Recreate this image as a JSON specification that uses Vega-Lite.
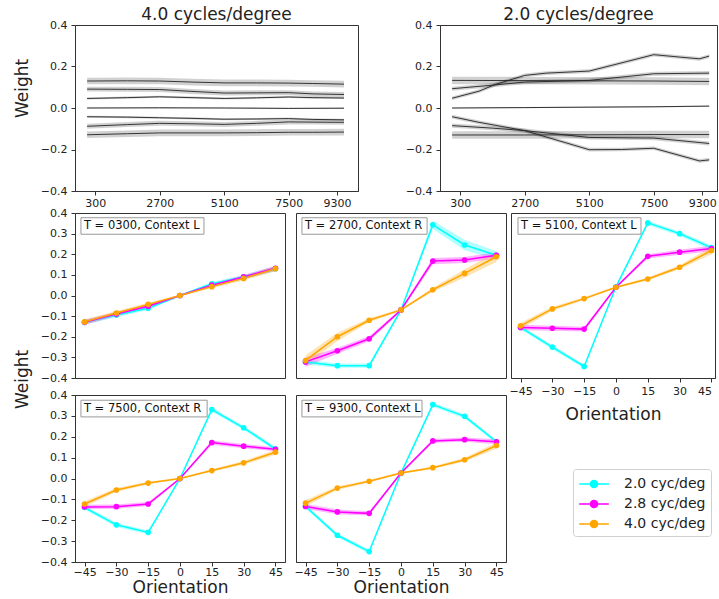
{
  "$schema": "https://vega.github.io/schema/vega-lite/v6.json",
  "padding": {"left": 12, "top": 5, "right": 0, "bottom": 0},
  "config": {
    "font": "DejaVu Sans",
    "view": {"stroke": "#333", "strokeWidth": 1},
    "axis": {"grid": false, "domainColor": "#333", "tickColor": "#333", "labelColor": "#222", "labelFontSize": 11, "tickSize": 4, "labelPadding": 4, "titleFontSize": 17, "titleFontWeight": "normal", "titleColor": "#222", "labelFont": "DejaVu Sans", "titleFont": "DejaVu Sans", "labelOverlap": false},
    "title": {"fontSize": 17, "fontWeight": "normal", "font": "DejaVu Sans", "color": "#222", "offset": -5, "frame": "group"},
    "range": {"category": ["#00ffff", "#ff00ff", "#ffa500"]}
  },
  "datasets": {
    "top": [
      {"panel":"tl","k":"p45","t":0,"w":0.13,"lo":0.114,"hi":0.146},
      {"panel":"tl","k":"p45","t":1500,"w":0.131,"lo":0.115,"hi":0.147},
      {"panel":"tl","k":"p45","t":2700,"w":0.13,"lo":0.114,"hi":0.146},
      {"panel":"tl","k":"p45","t":3900,"w":0.125,"lo":0.109,"hi":0.141},
      {"panel":"tl","k":"p45","t":5100,"w":0.121,"lo":0.105,"hi":0.137},
      {"panel":"tl","k":"p45","t":6300,"w":0.121,"lo":0.105,"hi":0.137},
      {"panel":"tl","k":"p45","t":7500,"w":0.12,"lo":0.104,"hi":0.136},
      {"panel":"tl","k":"p45","t":8400,"w":0.118,"lo":0.102,"hi":0.134},
      {"panel":"tl","k":"p45","t":9560,"w":0.115,"lo":0.099,"hi":0.131},
      {"panel":"tl","k":"p30","t":0,"w":0.091,"lo":0.079,"hi":0.103},
      {"panel":"tl","k":"p30","t":1500,"w":0.09,"lo":0.078,"hi":0.102},
      {"panel":"tl","k":"p30","t":2700,"w":0.089,"lo":0.077,"hi":0.101},
      {"panel":"tl","k":"p30","t":3900,"w":0.08,"lo":0.068,"hi":0.092},
      {"panel":"tl","k":"p30","t":5100,"w":0.072,"lo":0.06,"hi":0.084},
      {"panel":"tl","k":"p30","t":6300,"w":0.073,"lo":0.061,"hi":0.085},
      {"panel":"tl","k":"p30","t":7500,"w":0.074,"lo":0.062,"hi":0.086},
      {"panel":"tl","k":"p30","t":8400,"w":0.068,"lo":0.056,"hi":0.08},
      {"panel":"tl","k":"p30","t":9560,"w":0.065,"lo":0.053,"hi":0.077},
      {"panel":"tl","k":"p15","t":0,"w":0.046,"lo":0.041,"hi":0.051},
      {"panel":"tl","k":"p15","t":1500,"w":0.05,"lo":0.045,"hi":0.055},
      {"panel":"tl","k":"p15","t":2700,"w":0.054,"lo":0.049,"hi":0.059},
      {"panel":"tl","k":"p15","t":3900,"w":0.05,"lo":0.045,"hi":0.055},
      {"panel":"tl","k":"p15","t":5100,"w":0.046,"lo":0.041,"hi":0.051},
      {"panel":"tl","k":"p15","t":6300,"w":0.049,"lo":0.044,"hi":0.054},
      {"panel":"tl","k":"p15","t":7500,"w":0.053,"lo":0.048,"hi":0.058},
      {"panel":"tl","k":"p15","t":8400,"w":0.05,"lo":0.045,"hi":0.055},
      {"panel":"tl","k":"p15","t":9560,"w":0.048,"lo":0.043,"hi":0.053},
      {"panel":"tl","k":"z","t":0,"w":0.0,"lo":-0.003,"hi":0.003},
      {"panel":"tl","k":"z","t":2700,"w":0.001,"lo":-0.002,"hi":0.004},
      {"panel":"tl","k":"z","t":5100,"w":0.0,"lo":-0.003,"hi":0.003},
      {"panel":"tl","k":"z","t":7500,"w":-0.002,"lo":-0.005,"hi":0.001},
      {"panel":"tl","k":"z","t":9560,"w":-0.001,"lo":-0.004,"hi":0.002},
      {"panel":"tl","k":"m15","t":0,"w":-0.042,"lo":-0.047,"hi":-0.037},
      {"panel":"tl","k":"m15","t":1500,"w":-0.044,"lo":-0.049,"hi":-0.039},
      {"panel":"tl","k":"m15","t":2700,"w":-0.047,"lo":-0.052,"hi":-0.042},
      {"panel":"tl","k":"m15","t":3900,"w":-0.05,"lo":-0.055,"hi":-0.045},
      {"panel":"tl","k":"m15","t":5100,"w":-0.054,"lo":-0.059,"hi":-0.049},
      {"panel":"tl","k":"m15","t":6300,"w":-0.053,"lo":-0.058,"hi":-0.048},
      {"panel":"tl","k":"m15","t":7500,"w":-0.051,"lo":-0.056,"hi":-0.046},
      {"panel":"tl","k":"m15","t":8400,"w":-0.055,"lo":-0.06,"hi":-0.05},
      {"panel":"tl","k":"m15","t":9560,"w":-0.057,"lo":-0.062,"hi":-0.052},
      {"panel":"tl","k":"m30","t":0,"w":-0.088,"lo":-0.1,"hi":-0.076},
      {"panel":"tl","k":"m30","t":1500,"w":-0.08,"lo":-0.092,"hi":-0.068},
      {"panel":"tl","k":"m30","t":2700,"w":-0.074,"lo":-0.086,"hi":-0.062},
      {"panel":"tl","k":"m30","t":3900,"w":-0.076,"lo":-0.088,"hi":-0.064},
      {"panel":"tl","k":"m30","t":5100,"w":-0.079,"lo":-0.091,"hi":-0.067},
      {"panel":"tl","k":"m30","t":6300,"w":-0.074,"lo":-0.086,"hi":-0.062},
      {"panel":"tl","k":"m30","t":7500,"w":-0.067,"lo":-0.079,"hi":-0.055},
      {"panel":"tl","k":"m30","t":8400,"w":-0.068,"lo":-0.08,"hi":-0.056},
      {"panel":"tl","k":"m30","t":9560,"w":-0.069,"lo":-0.081,"hi":-0.057},
      {"panel":"tl","k":"m45","t":0,"w":-0.129,"lo":-0.145,"hi":-0.113},
      {"panel":"tl","k":"m45","t":1500,"w":-0.124,"lo":-0.14,"hi":-0.108},
      {"panel":"tl","k":"m45","t":2700,"w":-0.12,"lo":-0.136,"hi":-0.104},
      {"panel":"tl","k":"m45","t":3900,"w":-0.12,"lo":-0.136,"hi":-0.104},
      {"panel":"tl","k":"m45","t":5100,"w":-0.12,"lo":-0.136,"hi":-0.104},
      {"panel":"tl","k":"m45","t":6300,"w":-0.119,"lo":-0.135,"hi":-0.103},
      {"panel":"tl","k":"m45","t":7500,"w":-0.117,"lo":-0.133,"hi":-0.101},
      {"panel":"tl","k":"m45","t":8400,"w":-0.117,"lo":-0.133,"hi":-0.101},
      {"panel":"tl","k":"m45","t":9560,"w":-0.116,"lo":-0.132,"hi":-0.1},
      {"panel":"tr","k":"a","t":0,"w":0.047,"lo":0.038,"hi":0.056},
      {"panel":"tr","k":"a","t":1000,"w":0.081,"lo":0.072,"hi":0.09},
      {"panel":"tr","k":"a","t":1600,"w":0.113,"lo":0.104,"hi":0.122},
      {"panel":"tr","k":"a","t":2700,"w":0.157,"lo":0.148,"hi":0.166},
      {"panel":"tr","k":"a","t":3500,"w":0.168,"lo":0.159,"hi":0.177},
      {"panel":"tr","k":"a","t":5100,"w":0.178,"lo":0.169,"hi":0.187},
      {"panel":"tr","k":"a","t":7500,"w":0.257,"lo":0.248,"hi":0.266},
      {"panel":"tr","k":"a","t":8500,"w":0.245,"lo":0.236,"hi":0.254},
      {"panel":"tr","k":"a","t":9200,"w":0.237,"lo":0.228,"hi":0.246},
      {"panel":"tr","k":"a","t":9560,"w":0.25,"lo":0.241,"hi":0.259},
      {"panel":"tr","k":"b","t":0,"w":0.093,"lo":0.083,"hi":0.103},
      {"panel":"tr","k":"b","t":1500,"w":0.11,"lo":0.1,"hi":0.12},
      {"panel":"tr","k":"b","t":2700,"w":0.125,"lo":0.115,"hi":0.135},
      {"panel":"tr","k":"b","t":5100,"w":0.133,"lo":0.123,"hi":0.143},
      {"panel":"tr","k":"b","t":7500,"w":0.165,"lo":0.155,"hi":0.175},
      {"panel":"tr","k":"b","t":9560,"w":0.168,"lo":0.158,"hi":0.178},
      {"panel":"tr","k":"c","t":0,"w":0.133,"lo":0.115,"hi":0.151},
      {"panel":"tr","k":"c","t":2700,"w":0.132,"lo":0.114,"hi":0.15},
      {"panel":"tr","k":"c","t":5100,"w":0.131,"lo":0.113,"hi":0.149},
      {"panel":"tr","k":"c","t":7500,"w":0.13,"lo":0.112,"hi":0.148},
      {"panel":"tr","k":"c","t":9560,"w":0.128,"lo":0.11,"hi":0.146},
      {"panel":"tr","k":"z","t":0,"w":0.0,"lo":-0.003,"hi":0.003},
      {"panel":"tr","k":"z","t":2700,"w":0.002,"lo":-0.001,"hi":0.005},
      {"panel":"tr","k":"z","t":5100,"w":0.004,"lo":0.001,"hi":0.007},
      {"panel":"tr","k":"z","t":7500,"w":0.006,"lo":0.003,"hi":0.009},
      {"panel":"tr","k":"z","t":9560,"w":0.009,"lo":0.006,"hi":0.012},
      {"panel":"tr","k":"cm","t":0,"w":-0.13,"lo":-0.148,"hi":-0.112},
      {"panel":"tr","k":"cm","t":2700,"w":-0.13,"lo":-0.148,"hi":-0.112},
      {"panel":"tr","k":"cm","t":5100,"w":-0.129,"lo":-0.147,"hi":-0.111},
      {"panel":"tr","k":"cm","t":7500,"w":-0.128,"lo":-0.146,"hi":-0.11},
      {"panel":"tr","k":"cm","t":9560,"w":-0.128,"lo":-0.146,"hi":-0.11},
      {"panel":"tr","k":"bm","t":0,"w":-0.085,"lo":-0.095,"hi":-0.075},
      {"panel":"tr","k":"bm","t":1500,"w":-0.097,"lo":-0.107,"hi":-0.087},
      {"panel":"tr","k":"bm","t":2700,"w":-0.109,"lo":-0.119,"hi":-0.099},
      {"panel":"tr","k":"bm","t":5100,"w":-0.142,"lo":-0.152,"hi":-0.132},
      {"panel":"tr","k":"bm","t":7500,"w":-0.145,"lo":-0.155,"hi":-0.135},
      {"panel":"tr","k":"bm","t":9560,"w":-0.171,"lo":-0.181,"hi":-0.161},
      {"panel":"tr","k":"am","t":0,"w":-0.042,"lo":-0.051,"hi":-0.033},
      {"panel":"tr","k":"am","t":1000,"w":-0.069,"lo":-0.078,"hi":-0.06},
      {"panel":"tr","k":"am","t":2700,"w":-0.109,"lo":-0.118,"hi":-0.1},
      {"panel":"tr","k":"am","t":5100,"w":-0.201,"lo":-0.21,"hi":-0.192},
      {"panel":"tr","k":"am","t":6300,"w":-0.2,"lo":-0.209,"hi":-0.191},
      {"panel":"tr","k":"am","t":7500,"w":-0.194,"lo":-0.203,"hi":-0.185},
      {"panel":"tr","k":"am","t":9200,"w":-0.255,"lo":-0.264,"hi":-0.246},
      {"panel":"tr","k":"am","t":9560,"w":-0.25,"lo":-0.259,"hi":-0.241}
    ],
    "bottom": [
      {"p":"0300","sf":"2.0 cyc/deg","o":-45,"w":-0.13,"lo":-0.142,"hi":-0.118},
      {"p":"0300","sf":"2.0 cyc/deg","o":-30,"w":-0.095,"lo":-0.105,"hi":-0.085},
      {"p":"0300","sf":"2.0 cyc/deg","o":-15,"w":-0.062,"lo":-0.07,"hi":-0.054},
      {"p":"0300","sf":"2.0 cyc/deg","o":0,"w":0.0,"lo":-0.004,"hi":0.004},
      {"p":"0300","sf":"2.0 cyc/deg","o":15,"w":0.057,"lo":0.049,"hi":0.065},
      {"p":"0300","sf":"2.0 cyc/deg","o":30,"w":0.09,"lo":0.08,"hi":0.1},
      {"p":"0300","sf":"2.0 cyc/deg","o":45,"w":0.13,"lo":0.118,"hi":0.142},
      {"p":"0300","sf":"2.8 cyc/deg","o":-45,"w":-0.13,"lo":-0.142,"hi":-0.118},
      {"p":"0300","sf":"2.8 cyc/deg","o":-30,"w":-0.09,"lo":-0.1,"hi":-0.08},
      {"p":"0300","sf":"2.8 cyc/deg","o":-15,"w":-0.052,"lo":-0.06,"hi":-0.044},
      {"p":"0300","sf":"2.8 cyc/deg","o":0,"w":0.0,"lo":-0.004,"hi":0.004},
      {"p":"0300","sf":"2.8 cyc/deg","o":15,"w":0.05,"lo":0.042,"hi":0.058},
      {"p":"0300","sf":"2.8 cyc/deg","o":30,"w":0.09,"lo":0.08,"hi":0.1},
      {"p":"0300","sf":"2.8 cyc/deg","o":45,"w":0.132,"lo":0.12,"hi":0.144},
      {"p":"0300","sf":"4.0 cyc/deg","o":-45,"w":-0.128,"lo":-0.14,"hi":-0.116},
      {"p":"0300","sf":"4.0 cyc/deg","o":-30,"w":-0.085,"lo":-0.095,"hi":-0.075},
      {"p":"0300","sf":"4.0 cyc/deg","o":-15,"w":-0.043,"lo":-0.051,"hi":-0.035},
      {"p":"0300","sf":"4.0 cyc/deg","o":0,"w":0.0,"lo":-0.004,"hi":0.004},
      {"p":"0300","sf":"4.0 cyc/deg","o":15,"w":0.043,"lo":0.035,"hi":0.051},
      {"p":"0300","sf":"4.0 cyc/deg","o":30,"w":0.083,"lo":0.073,"hi":0.093},
      {"p":"0300","sf":"4.0 cyc/deg","o":45,"w":0.13,"lo":0.118,"hi":0.142},
      {"p":"2700","sf":"2.0 cyc/deg","o":-45,"w":-0.322,"lo":-0.334,"hi":-0.31},
      {"p":"2700","sf":"2.0 cyc/deg","o":-30,"w":-0.34,"lo":-0.35,"hi":-0.33},
      {"p":"2700","sf":"2.0 cyc/deg","o":-15,"w":-0.34,"lo":-0.35,"hi":-0.33},
      {"p":"2700","sf":"2.0 cyc/deg","o":0,"w":-0.07,"lo":-0.076,"hi":-0.064},
      {"p":"2700","sf":"2.0 cyc/deg","o":15,"w":0.343,"lo":0.323,"hi":0.363},
      {"p":"2700","sf":"2.0 cyc/deg","o":30,"w":0.245,"lo":0.22,"hi":0.27},
      {"p":"2700","sf":"2.0 cyc/deg","o":45,"w":0.195,"lo":0.175,"hi":0.215},
      {"p":"2700","sf":"2.8 cyc/deg","o":-45,"w":-0.322,"lo":-0.345,"hi":-0.3},
      {"p":"2700","sf":"2.8 cyc/deg","o":-30,"w":-0.268,"lo":-0.282,"hi":-0.254},
      {"p":"2700","sf":"2.8 cyc/deg","o":-15,"w":-0.21,"lo":-0.222,"hi":-0.198},
      {"p":"2700","sf":"2.8 cyc/deg","o":0,"w":-0.07,"lo":-0.076,"hi":-0.064},
      {"p":"2700","sf":"2.8 cyc/deg","o":15,"w":0.167,"lo":0.152,"hi":0.182},
      {"p":"2700","sf":"2.8 cyc/deg","o":30,"w":0.172,"lo":0.157,"hi":0.187},
      {"p":"2700","sf":"2.8 cyc/deg","o":45,"w":0.195,"lo":0.18,"hi":0.21},
      {"p":"2700","sf":"4.0 cyc/deg","o":-45,"w":-0.315,"lo":-0.34,"hi":-0.29},
      {"p":"2700","sf":"4.0 cyc/deg","o":-30,"w":-0.2,"lo":-0.22,"hi":-0.18},
      {"p":"2700","sf":"4.0 cyc/deg","o":-15,"w":-0.12,"lo":-0.13,"hi":-0.11},
      {"p":"2700","sf":"4.0 cyc/deg","o":0,"w":-0.07,"lo":-0.075,"hi":-0.065},
      {"p":"2700","sf":"4.0 cyc/deg","o":15,"w":0.028,"lo":0.018,"hi":0.038},
      {"p":"2700","sf":"4.0 cyc/deg","o":30,"w":0.107,"lo":0.087,"hi":0.127},
      {"p":"2700","sf":"4.0 cyc/deg","o":45,"w":0.188,"lo":0.163,"hi":0.213},
      {"p":"5100","sf":"2.0 cyc/deg","o":-45,"w":-0.155,"lo":-0.165,"hi":-0.145},
      {"p":"5100","sf":"2.0 cyc/deg","o":-30,"w":-0.25,"lo":-0.26,"hi":-0.24},
      {"p":"5100","sf":"2.0 cyc/deg","o":-15,"w":-0.344,"lo":-0.354,"hi":-0.334},
      {"p":"5100","sf":"2.0 cyc/deg","o":0,"w":0.042,"lo":0.036,"hi":0.048},
      {"p":"5100","sf":"2.0 cyc/deg","o":15,"w":0.352,"lo":0.342,"hi":0.362},
      {"p":"5100","sf":"2.0 cyc/deg","o":30,"w":0.3,"lo":0.29,"hi":0.31},
      {"p":"5100","sf":"2.0 cyc/deg","o":45,"w":0.232,"lo":0.22,"hi":0.244},
      {"p":"5100","sf":"2.8 cyc/deg","o":-45,"w":-0.155,"lo":-0.168,"hi":-0.142},
      {"p":"5100","sf":"2.8 cyc/deg","o":-30,"w":-0.159,"lo":-0.171,"hi":-0.147},
      {"p":"5100","sf":"2.8 cyc/deg","o":-15,"w":-0.163,"lo":-0.175,"hi":-0.151},
      {"p":"5100","sf":"2.8 cyc/deg","o":0,"w":0.04,"lo":0.035,"hi":0.045},
      {"p":"5100","sf":"2.8 cyc/deg","o":15,"w":0.19,"lo":0.18,"hi":0.2},
      {"p":"5100","sf":"2.8 cyc/deg","o":30,"w":0.21,"lo":0.198,"hi":0.222},
      {"p":"5100","sf":"2.8 cyc/deg","o":45,"w":0.228,"lo":0.215,"hi":0.241},
      {"p":"5100","sf":"4.0 cyc/deg","o":-45,"w":-0.147,"lo":-0.162,"hi":-0.132},
      {"p":"5100","sf":"4.0 cyc/deg","o":-30,"w":-0.065,"lo":-0.075,"hi":-0.055},
      {"p":"5100","sf":"4.0 cyc/deg","o":-15,"w":-0.015,"lo":-0.022,"hi":-0.008},
      {"p":"5100","sf":"4.0 cyc/deg","o":0,"w":0.04,"lo":0.035,"hi":0.045},
      {"p":"5100","sf":"4.0 cyc/deg","o":15,"w":0.08,"lo":0.073,"hi":0.087},
      {"p":"5100","sf":"4.0 cyc/deg","o":30,"w":0.137,"lo":0.127,"hi":0.147},
      {"p":"5100","sf":"4.0 cyc/deg","o":45,"w":0.218,"lo":0.2,"hi":0.236},
      {"p":"7500","sf":"2.0 cyc/deg","o":-45,"w":-0.139,"lo":-0.149,"hi":-0.129},
      {"p":"7500","sf":"2.0 cyc/deg","o":-30,"w":-0.222,"lo":-0.232,"hi":-0.212},
      {"p":"7500","sf":"2.0 cyc/deg","o":-15,"w":-0.258,"lo":-0.267,"hi":-0.249},
      {"p":"7500","sf":"2.0 cyc/deg","o":0,"w":0.0,"lo":-0.004,"hi":0.004},
      {"p":"7500","sf":"2.0 cyc/deg","o":15,"w":0.33,"lo":0.32,"hi":0.34},
      {"p":"7500","sf":"2.0 cyc/deg","o":30,"w":0.243,"lo":0.233,"hi":0.253},
      {"p":"7500","sf":"2.0 cyc/deg","o":45,"w":0.142,"lo":0.132,"hi":0.152},
      {"p":"7500","sf":"2.8 cyc/deg","o":-45,"w":-0.136,"lo":-0.146,"hi":-0.126},
      {"p":"7500","sf":"2.8 cyc/deg","o":-30,"w":-0.135,"lo":-0.145,"hi":-0.125},
      {"p":"7500","sf":"2.8 cyc/deg","o":-15,"w":-0.122,"lo":-0.132,"hi":-0.112},
      {"p":"7500","sf":"2.8 cyc/deg","o":0,"w":0.0,"lo":-0.004,"hi":0.004},
      {"p":"7500","sf":"2.8 cyc/deg","o":15,"w":0.172,"lo":0.162,"hi":0.182},
      {"p":"7500","sf":"2.8 cyc/deg","o":30,"w":0.155,"lo":0.145,"hi":0.165},
      {"p":"7500","sf":"2.8 cyc/deg","o":45,"w":0.14,"lo":0.13,"hi":0.15},
      {"p":"7500","sf":"4.0 cyc/deg","o":-45,"w":-0.122,"lo":-0.135,"hi":-0.109},
      {"p":"7500","sf":"4.0 cyc/deg","o":-30,"w":-0.055,"lo":-0.065,"hi":-0.045},
      {"p":"7500","sf":"4.0 cyc/deg","o":-15,"w":-0.022,"lo":-0.028,"hi":-0.016},
      {"p":"7500","sf":"4.0 cyc/deg","o":0,"w":0.0,"lo":-0.004,"hi":0.004},
      {"p":"7500","sf":"4.0 cyc/deg","o":15,"w":0.038,"lo":0.032,"hi":0.044},
      {"p":"7500","sf":"4.0 cyc/deg","o":30,"w":0.075,"lo":0.066,"hi":0.084},
      {"p":"7500","sf":"4.0 cyc/deg","o":45,"w":0.126,"lo":0.114,"hi":0.138},
      {"p":"9300","sf":"2.0 cyc/deg","o":-45,"w":-0.134,"lo":-0.144,"hi":-0.124},
      {"p":"9300","sf":"2.0 cyc/deg","o":-30,"w":-0.272,"lo":-0.282,"hi":-0.262},
      {"p":"9300","sf":"2.0 cyc/deg","o":-15,"w":-0.35,"lo":-0.36,"hi":-0.34},
      {"p":"9300","sf":"2.0 cyc/deg","o":0,"w":0.026,"lo":0.021,"hi":0.031},
      {"p":"9300","sf":"2.0 cyc/deg","o":15,"w":0.354,"lo":0.344,"hi":0.364},
      {"p":"9300","sf":"2.0 cyc/deg","o":30,"w":0.298,"lo":0.288,"hi":0.308},
      {"p":"9300","sf":"2.0 cyc/deg","o":45,"w":0.176,"lo":0.166,"hi":0.186},
      {"p":"9300","sf":"2.8 cyc/deg","o":-45,"w":-0.134,"lo":-0.146,"hi":-0.122},
      {"p":"9300","sf":"2.8 cyc/deg","o":-30,"w":-0.16,"lo":-0.171,"hi":-0.149},
      {"p":"9300","sf":"2.8 cyc/deg","o":-15,"w":-0.167,"lo":-0.177,"hi":-0.157},
      {"p":"9300","sf":"2.8 cyc/deg","o":0,"w":0.026,"lo":0.021,"hi":0.031},
      {"p":"9300","sf":"2.8 cyc/deg","o":15,"w":0.18,"lo":0.171,"hi":0.189},
      {"p":"9300","sf":"2.8 cyc/deg","o":30,"w":0.186,"lo":0.176,"hi":0.196},
      {"p":"9300","sf":"2.8 cyc/deg","o":45,"w":0.176,"lo":0.164,"hi":0.188},
      {"p":"9300","sf":"4.0 cyc/deg","o":-45,"w":-0.118,"lo":-0.133,"hi":-0.103},
      {"p":"9300","sf":"4.0 cyc/deg","o":-30,"w":-0.046,"lo":-0.055,"hi":-0.037},
      {"p":"9300","sf":"4.0 cyc/deg","o":-15,"w":-0.013,"lo":-0.019,"hi":-0.007},
      {"p":"9300","sf":"4.0 cyc/deg","o":0,"w":0.026,"lo":0.021,"hi":0.031},
      {"p":"9300","sf":"4.0 cyc/deg","o":15,"w":0.052,"lo":0.046,"hi":0.058},
      {"p":"9300","sf":"4.0 cyc/deg","o":30,"w":0.09,"lo":0.081,"hi":0.099},
      {"p":"9300","sf":"4.0 cyc/deg","o":45,"w":0.158,"lo":0.143,"hi":0.173}
    ]
  },
  "spacing": -3,
  "vconcat": [
    {
      "spacing": 45,
      "hconcat": [
        {
          "width": 283, "height": 166,
          "title": "4.0 cycles/degree",
          "data": {"name": "top"},
          "transform": [{"filter": "datum.panel == 'tl'"}],
          "layer": [
            {"mark": {"type": "area", "color": "black", "opacity": 0.18},
             "encoding": {
               "x": {"field": "t", "type": "quantitative", "scale": {"domain": [-450, 10080], "nice": false, "zero": false}, "axis": {"values": [300, 2700, 5100, 7500, 9300], "tickCount": 20, "format": "d", "title": null, "labelPadding": 2}},
               "y": {"field": "lo", "type": "quantitative", "scale": {"domain": [-0.4, 0.4], "nice": false, "zero": false}, "axis": {"values": [-0.4, -0.2, 0, 0.2, 0.4], "tickCount": 20, "format": ".1f", "labelExpr": "replace(datum.label, '-', '\u2212')", "title": "Weight", "titlePadding": 9, "titleY": 63}},
               "y2": {"field": "hi"},
               "detail": {"field": "k"}}},
            {"mark": {"type": "line", "color": "#222", "strokeWidth": 0.9},
             "encoding": {"x": {"field": "t", "type": "quantitative"}, "y": {"field": "w", "type": "quantitative"}, "detail": {"field": "k"}}}
          ]
        },
        {
          "width": 277, "height": 166,
          "title": "2.0 cycles/degree",
          "data": {"name": "top"},
          "transform": [{"filter": "datum.panel == 'tr'"}],
          "layer": [
            {"mark": {"type": "area", "color": "black", "opacity": 0.18},
             "encoding": {
               "x": {"field": "t", "type": "quantitative", "scale": {"domain": [-450, 9850], "nice": false, "zero": false}, "axis": {"values": [300, 2700, 5100, 7500, 9300], "tickCount": 20, "format": "d", "title": null, "labelPadding": 2}},
               "y": {"field": "lo", "type": "quantitative", "scale": {"domain": [-0.4, 0.4], "nice": false, "zero": false}, "axis": {"values": [-0.4, -0.2, 0, 0.2, 0.4], "tickCount": 20, "format": ".1f", "labelExpr": "replace(datum.label, '-', '\u2212')", "title": null}},
               "y2": {"field": "hi"},
               "detail": {"field": "k"}}},
            {"mark": {"type": "line", "color": "#222", "strokeWidth": 0.9},
             "encoding": {"x": {"field": "t", "type": "quantitative"}, "y": {"field": "w", "type": "quantitative"}, "detail": {"field": "k"}}}
          ]
        }
      ]
    },
    {
      "spacing": 7,
      "hconcat": [
        {
          "spacing": 17,
          "bounds": "flush",
          "vconcat": [
            {
              "width": 210, "height": 165,
              "layer": [
                {"data": {"name": "bottom"}, "transform": [{"filter": "datum.p == '0300'"}],
                 "mark": {"type": "area", "opacity": 0.3},
                 "encoding": {
                   "x": {"field": "o", "type": "quantitative", "scale": {"domain": [-49.5, 49.5], "nice": false, "zero": false}, "axis": null},
                   "y": {"field": "lo", "type": "quantitative", "scale": {"domain": [-0.4, 0.4], "nice": false, "zero": false}, "axis": {"values": [-0.4, -0.3, -0.2, -0.1, 0, 0.1, 0.2, 0.3, 0.4], "tickCount": 20, "format": ".1f", "labelExpr": "replace(datum.label, '-', '\u2212')", "title": null}},
                   "y2": {"field": "hi"},
                   "fill": {"field": "sf", "type": "nominal", "legend": null}}},
                {"data": {"name": "bottom"}, "transform": [{"filter": "datum.p == '0300'"}],
                 "mark": {"type": "line", "strokeWidth": 1.5, "point": {"filled": true, "size": 32}},
                 "encoding": {
                   "x": {"field": "o", "type": "quantitative"},
                   "y": {"field": "w", "type": "quantitative"},
                   "color": {"field": "sf", "type": "nominal", "title": null,
                     "legend": {"orient": "none", "legendX": 498, "legendY": 444, "fillColor": "white", "strokeColor": "#d0d0d0", "cornerRadius": 3, "padding": 5, "labelFontSize": 14, "labelColor": "#222", "labelOffset": 20, "rowPadding": 3, "symbolSize": 324, "symbolOffset": 6, "symbolStrokeWidth": 1.5, "symbolOpacity": 1, "labelLimit": 200,
                       "symbolType": "M-1.65,0L1.65,0M-0.4,0A0.4,0.4,0,1,0,0.4,0A0.4,0.4,0,1,0,-0.4,0Z"}}}},
                {"data": {"values": [{"label": "T = 0300, Context L"}]},
                 "mark": {"type": "rect", "fill": "white", "stroke": "#999", "strokeWidth": 1},
                 "encoding": {"x": {"datum": -46.7}, "x2": {"datum": 11.3}, "y": {"datum": 0.377}, "y2": {"datum": 0.297}}},
                {"data": {"values": [{"label": "T = 0300, Context L"}]},
                 "mark": {"type": "text", "align": "left", "baseline": "middle", "fontSize": 11.5, "color": "#111"},
                 "encoding": {"x": {"datum": -45.3}, "y": {"datum": 0.337}, "text": {"field": "label"}}}
              ]
            },
            {
              "width": 210, "height": 167,
              "layer": [
                {"data": {"name": "bottom"}, "transform": [{"filter": "datum.p == '7500'"}],
                 "mark": {"type": "area", "opacity": 0.3},
                 "encoding": {
                   "x": {"field": "o", "type": "quantitative", "scale": {"domain": [-49.5, 49.5], "nice": false, "zero": false}, "axis": {"values": [-45, -30, -15, 0, 15, 30, 45], "tickCount": 20, "labelExpr": "replace(datum.label, '-', '\u2212')", "title": "Orientation", "labelPadding": 0, "titlePadding": 2}},
                   "y": {"field": "lo", "type": "quantitative", "scale": {"domain": [-0.4, 0.4], "nice": false, "zero": false}, "axis": {"values": [-0.4, -0.3, -0.2, -0.1, 0, 0.1, 0.2, 0.3, 0.4], "tickCount": 20, "format": ".1f", "labelExpr": "replace(datum.label, '-', '\u2212')", "title": "Weight", "titlePadding": 9, "titleY": -16}},
                   "y2": {"field": "hi"},
                   "fill": {"field": "sf", "type": "nominal", "legend": null}}},
                {"data": {"name": "bottom"}, "transform": [{"filter": "datum.p == '7500'"}],
                 "mark": {"type": "line", "strokeWidth": 1.5, "point": {"filled": true, "size": 32}},
                 "encoding": {"x": {"field": "o", "type": "quantitative"}, "y": {"field": "w", "type": "quantitative"}, "color": {"field": "sf", "type": "nominal"}}},
                {"data": {"values": [{"label": "T = 7500, Context R"}]},
                 "mark": {"type": "rect", "fill": "white", "stroke": "#999", "strokeWidth": 1},
                 "encoding": {"x": {"datum": -46.7}, "x2": {"datum": 12.8}, "y": {"datum": 0.375}, "y2": {"datum": 0.295}}},
                {"data": {"values": [{"label": "T = 7500, Context R"}]},
                 "mark": {"type": "text", "align": "left", "baseline": "middle", "fontSize": 11.5, "color": "#111"},
                 "encoding": {"x": {"datum": -45.3}, "y": {"datum": 0.335}, "text": {"field": "label"}}}
              ]
            }
          ]
        },
        {
          "spacing": 1,
          "hconcat": [
            {
              "spacing": 17,
              "bounds": "flush",
              "vconcat": [
                {
                  "width": 210, "height": 165,
                  "layer": [
                    {"data": {"name": "bottom"}, "transform": [{"filter": "datum.p == '2700'"}],
                     "mark": {"type": "area", "opacity": 0.3},
                     "encoding": {
                       "x": {"field": "o", "type": "quantitative", "scale": {"domain": [-49.5, 49.5], "nice": false, "zero": false}, "axis": null},
                       "y": {"field": "lo", "type": "quantitative", "scale": {"domain": [-0.4, 0.4], "nice": false, "zero": false}, "axis": null},
                       "y2": {"field": "hi"},
                       "fill": {"field": "sf", "type": "nominal", "legend": null}}},
                    {"data": {"name": "bottom"}, "transform": [{"filter": "datum.p == '2700'"}],
                     "mark": {"type": "line", "strokeWidth": 1.5, "point": {"filled": true, "size": 32}},
                     "encoding": {"x": {"field": "o", "type": "quantitative"}, "y": {"field": "w", "type": "quantitative"}, "color": {"field": "sf", "type": "nominal"}}},
                    {"data": {"values": [{"label": "T = 2700, Context R"}]},
                     "mark": {"type": "rect", "fill": "white", "stroke": "#999", "strokeWidth": 1},
                     "encoding": {"x": {"datum": -46.7}, "x2": {"datum": 12.3}, "y": {"datum": 0.377}, "y2": {"datum": 0.297}}},
                    {"data": {"values": [{"label": "T = 2700, Context R"}]},
                     "mark": {"type": "text", "align": "left", "baseline": "middle", "fontSize": 11.5, "color": "#111"},
                     "encoding": {"x": {"datum": -45.3}, "y": {"datum": 0.337}, "text": {"field": "label"}}}
                  ]
                },
                {
                  "width": 210, "height": 167,
                  "layer": [
                    {"data": {"name": "bottom"}, "transform": [{"filter": "datum.p == '9300'"}],
                     "mark": {"type": "area", "opacity": 0.3},
                     "encoding": {
                       "x": {"field": "o", "type": "quantitative", "scale": {"domain": [-49.5, 49.5], "nice": false, "zero": false}, "axis": {"values": [-45, -30, -15, 0, 15, 30, 45], "tickCount": 20, "labelExpr": "replace(datum.label, '-', '\u2212')", "title": "Orientation", "labelPadding": 0, "titlePadding": 2}},
                       "y": {"field": "lo", "type": "quantitative", "scale": {"domain": [-0.4, 0.4], "nice": false, "zero": false}, "axis": null},
                       "y2": {"field": "hi"},
                       "fill": {"field": "sf", "type": "nominal", "legend": null}}},
                    {"data": {"name": "bottom"}, "transform": [{"filter": "datum.p == '9300'"}],
                     "mark": {"type": "line", "strokeWidth": 1.5, "point": {"filled": true, "size": 32}},
                     "encoding": {"x": {"field": "o", "type": "quantitative"}, "y": {"field": "w", "type": "quantitative"}, "color": {"field": "sf", "type": "nominal"}}},
                    {"data": {"values": [{"label": "T = 9300, Context L"}]},
                     "mark": {"type": "rect", "fill": "white", "stroke": "#999", "strokeWidth": 1},
                     "encoding": {"x": {"datum": -46.7}, "x2": {"datum": 9.9}, "y": {"datum": 0.375}, "y2": {"datum": 0.295}}},
                    {"data": {"values": [{"label": "T = 9300, Context L"}]},
                     "mark": {"type": "text", "align": "left", "baseline": "middle", "fontSize": 11.5, "color": "#111"},
                     "encoding": {"x": {"datum": -45.3}, "y": {"datum": 0.335}, "text": {"field": "label"}}}
                  ]
                }
              ]
            },
            {
              "width": 204, "height": 165,
              "layer": [
                {"data": {"name": "bottom"}, "transform": [{"filter": "datum.p == '5100'"}],
                 "mark": {"type": "area", "opacity": 0.3},
                 "encoding": {
                   "x": {"field": "o", "type": "quantitative", "scale": {"domain": [-49.5, 46.7], "nice": false, "zero": false}, "axis": {"values": [-45, -30, -15, 0, 15, 30, 45], "tickCount": 20, "labelExpr": "replace(datum.label, '-', '\u2212')", "title": "Orientation", "labelPadding": 3, "titlePadding": 10, "labelFlush": 6}},
                   "y": {"field": "lo", "type": "quantitative", "scale": {"domain": [-0.4, 0.4], "nice": false, "zero": false}, "axis": null},
                   "y2": {"field": "hi"},
                   "fill": {"field": "sf", "type": "nominal", "legend": null}}},
                {"data": {"name": "bottom"}, "transform": [{"filter": "datum.p == '5100'"}],
                 "mark": {"type": "line", "strokeWidth": 1.5, "point": {"filled": true, "size": 32}},
                 "encoding": {"x": {"field": "o", "type": "quantitative"}, "y": {"field": "w", "type": "quantitative"}, "color": {"field": "sf", "type": "nominal"}}},
                {"data": {"values": [{"label": "T = 5100, Context L"}]},
                 "mark": {"type": "rect", "fill": "white", "stroke": "#999", "strokeWidth": 1},
                 "encoding": {"x": {"datum": -46.2}, "x2": {"datum": 11.8}, "y": {"datum": 0.377}, "y2": {"datum": 0.297}}},
                {"data": {"values": [{"label": "T = 5100, Context L"}]},
                 "mark": {"type": "text", "align": "left", "baseline": "middle", "fontSize": 11.5, "color": "#111"},
                 "encoding": {"x": {"datum": -44.8}, "y": {"datum": 0.337}, "text": {"field": "label"}}}
              ]
            }
          ]
        }
      ]
    }
  ]
}
